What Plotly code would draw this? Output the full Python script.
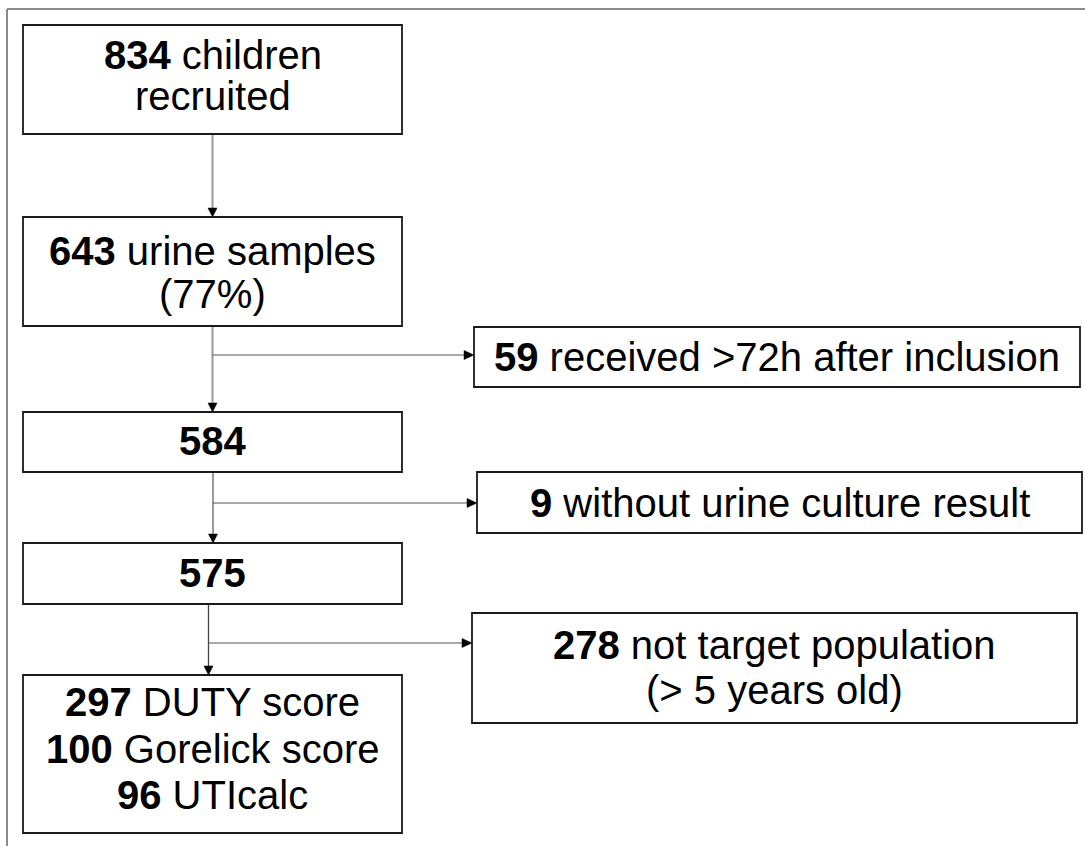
import plotly.graph_objects as go

# ---------------- data ----------------
main_counts = [834, 643, 584, 575]
main_line1 = ["children", "urine samples", "", ""]
main_line2 = ["recruited", "(77%)", "", ""]

excluded_counts = [59, 9, 278]
excluded_line1 = ["received >72h after inclusion", "without urine culture result", "not target population"]
excluded_line2 = ["", "", "(> 5 years old)"]

final_counts = [297, 100, 96]
final_labels = ["DUTY score", "Gorelick score", "UTIcalc"]

# ---------------- layout (pixel geometry) ----------------
W, H = 1085, 846
main_boxes = [(23, 25, 402, 134), (23, 217, 402, 326), (23, 412, 402, 472), (23, 543, 402, 604)]
main_text_y = [(55, 96), (251, 294), (441, None), (573, None)]
final_box = (23, 675, 402, 833)
final_text_y = [702, 749, 795]
excl_boxes = [(474, 327, 1080, 387), (477, 472, 1082, 533), (472, 613, 1077, 723)]
excl_text_y = [(357, None), (503, None), (645, 690)]
# connectors: (x, y_top, y_bottom, color, width)
vlines = [(212.5, 134, 217, "#9a9a9a", 2), (212.5, 326, 412, "#9a9a9a", 2),
          (213, 472, 543, "#9a9a9a", 2), (208.5, 604, 675, "#444444", 1.3)]
hlines = [(212.5, 355, 474), (213, 503, 477), (208.5, 643, 472)]

FONT = "Liberation Sans, Arial, sans-serif"
FS = 40

fig = go.Figure()
shapes = []
annotations = []

# outer frame (top + left)
shapes.append(dict(type="line", x0=7, x1=W, y0=9, y1=9, line=dict(color="#8a8a8a", width=2)))
shapes.append(dict(type="line", x0=7, x1=7, y0=9, y1=H, line=dict(color="#8a8a8a", width=2)))

def box(b):
    x0, y0, x1, y1 = b
    shapes.append(dict(type="rect", x0=x0, y0=y0, x1=x1, y1=y1,
                       line=dict(color="#1a1a1a", width=1.8), fillcolor="white", layer="above"))

def text(x, y, s):
    annotations.append(dict(x=x, y=y, text=s, showarrow=False, xanchor="center", yanchor="middle",
                            font=dict(family=FONT, size=FS, color="black")))

def down_arrow(x, tip):
    shapes.append(dict(type="path", path=f"M {x-4.5} {tip-9} L {x+4.5} {tip-9} L {x} {tip} Z",
                       fillcolor="black", line=dict(color="black", width=0.5)))

def right_arrow(tip, y):
    shapes.append(dict(type="path", path=f"M {tip-10} {y-4.5} L {tip-10} {y+4.5} L {tip} {y} Z",
                       fillcolor="black", line=dict(color="black", width=0.5)))

# connectors
for x, ya, yb, c, w in vlines:
    shapes.append(dict(type="line", x0=x, x1=x, y0=ya, y1=yb - 8, line=dict(color=c, width=w)))
    down_arrow(x, yb)
for x, y, tip in hlines:
    shapes.append(dict(type="line", x0=x, x1=tip - 9, y0=y, y1=y, line=dict(color="#555555", width=1.2)))
    right_arrow(tip, y)

# main boxes
for i, b in enumerate(main_boxes):
    box(b)
    cx = (b[0] + b[2]) / 2
    l1 = f"<b>{main_counts[i]}</b>" + (f" {main_line1[i]}" if main_line1[i] else "")
    text(cx, main_text_y[i][0], l1)
    if main_line2[i]:
        text(cx, main_text_y[i][1], main_line2[i])

# final box
box(final_box)
cx = (final_box[0] + final_box[2]) / 2
for i, lab in enumerate(final_labels):
    text(cx, final_text_y[i], f"<b>{final_counts[i]}</b> {lab}")

# exclusion boxes
for i, b in enumerate(excl_boxes):
    box(b)
    cx = (b[0] + b[2]) / 2
    text(cx, excl_text_y[i][0], f"<b>{excluded_counts[i]}</b> {excluded_line1[i]}")
    if excluded_line2[i]:
        text(cx, excl_text_y[i][1], excluded_line2[i])

fig.update_layout(
    width=W, height=H,
    margin=dict(l=0, r=0, t=0, b=0),
    paper_bgcolor="white", plot_bgcolor="white",
    xaxis=dict(range=[0, W], visible=False, fixedrange=True),
    yaxis=dict(range=[H, 0], visible=False, fixedrange=True),
    shapes=shapes, annotations=annotations, showlegend=False,
)
fig.write_html("out.html",
               config={"displayModeBar": False},
               post_script="document.body.style.margin='0';document.body.style.overflow='hidden';")
